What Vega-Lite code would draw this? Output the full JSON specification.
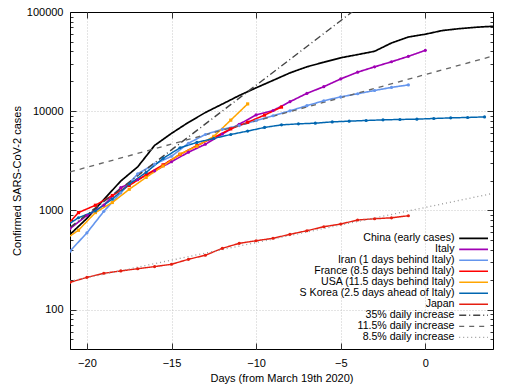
{
  "$schema": "https://vega.github.io/schema/vega-lite/v6.json",
  "width": 423,
  "height": 337,
  "autosize": {"type": "none"},
  "padding": {"left": 70, "top": 12, "right": 19, "bottom": 35},
  "background": "white",
  "config": {
    "font": "Liberation Sans",
    "view": {"stroke": "black", "strokeWidth": 1},
    "axis": {
      "labelFont": "Liberation Sans", "labelFontSize": 11, "labelColor": "black",
      "titleFont": "Liberation Sans", "titleFontSize": 11, "titleFontWeight": "normal", "titleColor": "black",
      "domain": false, "tickColor": "black", "tickWidth": 0.8,
      "gridColor": "#bbbbbb", "gridDash": [1, 2], "gridWidth": 0.8
    }
  },
  "data": {
    "values": [
      {"s": "China (early cases)", "d": -21, "v": 571}, {"s": "China (early cases)", "d": -20, "v": 830}, {"s": "China (early cases)", "d": -19, "v": 1287}, {"s": "China (early cases)", "d": -18, "v": 1975}, {"s": "China (early cases)", "d": -17, "v": 2744}, {"s": "China (early cases)", "d": -16, "v": 4515}, {"s": "China (early cases)", "d": -15, "v": 5974}, {"s": "China (early cases)", "d": -14, "v": 7711}, {"s": "China (early cases)", "d": -13, "v": 9692}, {"s": "China (early cases)", "d": -12, "v": 11791}, {"s": "China (early cases)", "d": -11, "v": 14380}, {"s": "China (early cases)", "d": -10, "v": 17205}, {"s": "China (early cases)", "d": -9, "v": 20440}, {"s": "China (early cases)", "d": -8, "v": 24324}, {"s": "China (early cases)", "d": -7, "v": 28018}, {"s": "China (early cases)", "d": -6, "v": 31161}, {"s": "China (early cases)", "d": -5, "v": 34546}, {"s": "China (early cases)", "d": -4, "v": 37198}, {"s": "China (early cases)", "d": -3, "v": 40171}, {"s": "China (early cases)", "d": -2, "v": 48700}, {"s": "China (early cases)", "d": -1, "v": 56000}, {"s": "China (early cases)", "d": 0, "v": 59700}, {"s": "China (early cases)", "d": 1, "v": 65000}, {"s": "China (early cases)", "d": 2, "v": 67900}, {"s": "China (early cases)", "d": 3, "v": 70200}, {"s": "China (early cases)", "d": 4, "v": 71800},
      {"s": "Italy", "d": -21, "v": 655}, {"s": "Italy", "d": -20, "v": 888}, {"s": "Italy", "d": -19, "v": 1128}, {"s": "Italy", "d": -18, "v": 1694}, {"s": "Italy", "d": -17, "v": 2036}, {"s": "Italy", "d": -16, "v": 2502}, {"s": "Italy", "d": -15, "v": 3089}, {"s": "Italy", "d": -14, "v": 3858}, {"s": "Italy", "d": -13, "v": 4636}, {"s": "Italy", "d": -12, "v": 5883}, {"s": "Italy", "d": -11, "v": 7375}, {"s": "Italy", "d": -10, "v": 9172}, {"s": "Italy", "d": -9, "v": 10149}, {"s": "Italy", "d": -8, "v": 12462}, {"s": "Italy", "d": -7, "v": 15113}, {"s": "Italy", "d": -6, "v": 17660}, {"s": "Italy", "d": -5, "v": 21157}, {"s": "Italy", "d": -4, "v": 24747}, {"s": "Italy", "d": -3, "v": 27980}, {"s": "Italy", "d": -2, "v": 31506}, {"s": "Italy", "d": -1, "v": 35713}, {"s": "Italy", "d": 0, "v": 41035},
      {"s": "Iran (1 days behind Italy)", "d": -21, "v": 388}, {"s": "Iran (1 days behind Italy)", "d": -20, "v": 593}, {"s": "Iran (1 days behind Italy)", "d": -19, "v": 978}, {"s": "Iran (1 days behind Italy)", "d": -18, "v": 1501}, {"s": "Iran (1 days behind Italy)", "d": -17, "v": 2336}, {"s": "Iran (1 days behind Italy)", "d": -16, "v": 2922}, {"s": "Iran (1 days behind Italy)", "d": -15, "v": 3513}, {"s": "Iran (1 days behind Italy)", "d": -14, "v": 4747}, {"s": "Iran (1 days behind Italy)", "d": -13, "v": 5823}, {"s": "Iran (1 days behind Italy)", "d": -12, "v": 6566}, {"s": "Iran (1 days behind Italy)", "d": -11, "v": 7161}, {"s": "Iran (1 days behind Italy)", "d": -10, "v": 8042}, {"s": "Iran (1 days behind Italy)", "d": -9, "v": 9000}, {"s": "Iran (1 days behind Italy)", "d": -8, "v": 10075}, {"s": "Iran (1 days behind Italy)", "d": -7, "v": 11364}, {"s": "Iran (1 days behind Italy)", "d": -6, "v": 12729}, {"s": "Iran (1 days behind Italy)", "d": -5, "v": 13938}, {"s": "Iran (1 days behind Italy)", "d": -4, "v": 14991}, {"s": "Iran (1 days behind Italy)", "d": -3, "v": 16169}, {"s": "Iran (1 days behind Italy)", "d": -2, "v": 17361}, {"s": "Iran (1 days behind Italy)", "d": -1, "v": 18407},
      {"s": "France (8.5 days behind Italy)", "d": -21.5, "v": 613}, {"s": "France (8.5 days behind Italy)", "d": -20.5, "v": 949}, {"s": "France (8.5 days behind Italy)", "d": -19.5, "v": 1126}, {"s": "France (8.5 days behind Italy)", "d": -18.5, "v": 1412}, {"s": "France (8.5 days behind Italy)", "d": -17.5, "v": 1784}, {"s": "France (8.5 days behind Italy)", "d": -16.5, "v": 2281}, {"s": "France (8.5 days behind Italy)", "d": -15.5, "v": 2876}, {"s": "France (8.5 days behind Italy)", "d": -14.5, "v": 3661}, {"s": "France (8.5 days behind Italy)", "d": -13.5, "v": 4499}, {"s": "France (8.5 days behind Italy)", "d": -12.5, "v": 5423}, {"s": "France (8.5 days behind Italy)", "d": -11.5, "v": 6633}, {"s": "France (8.5 days behind Italy)", "d": -10.5, "v": 7730}, {"s": "France (8.5 days behind Italy)", "d": -9.5, "v": 9134}, {"s": "France (8.5 days behind Italy)", "d": -8.5, "v": 10995},
      {"s": "USA (11.5 days behind Italy)", "d": -21.5, "v": 482}, {"s": "USA (11.5 days behind Italy)", "d": -20.5, "v": 630}, {"s": "USA (11.5 days behind Italy)", "d": -19.5, "v": 950}, {"s": "USA (11.5 days behind Italy)", "d": -18.5, "v": 1200}, {"s": "USA (11.5 days behind Italy)", "d": -17.5, "v": 1630}, {"s": "USA (11.5 days behind Italy)", "d": -16.5, "v": 2150}, {"s": "USA (11.5 days behind Italy)", "d": -15.5, "v": 2800}, {"s": "USA (11.5 days behind Italy)", "d": -14.5, "v": 3690}, {"s": "USA (11.5 days behind Italy)", "d": -13.5, "v": 4440}, {"s": "USA (11.5 days behind Italy)", "d": -12.5, "v": 5580}, {"s": "USA (11.5 days behind Italy)", "d": -11.5, "v": 8120}, {"s": "USA (11.5 days behind Italy)", "d": -10.5, "v": 11840},
      {"s": "S Korea (2.5 days ahead of Italy)", "d": -21.5, "v": 650}, {"s": "S Korea (2.5 days ahead of Italy)", "d": -20.5, "v": 843}, {"s": "S Korea (2.5 days ahead of Italy)", "d": -19.5, "v": 985}, {"s": "S Korea (2.5 days ahead of Italy)", "d": -18.5, "v": 1300}, {"s": "S Korea (2.5 days ahead of Italy)", "d": -17.5, "v": 1840}, {"s": "S Korea (2.5 days ahead of Italy)", "d": -16.5, "v": 2415}, {"s": "S Korea (2.5 days ahead of Italy)", "d": -15.5, "v": 3340}, {"s": "S Korea (2.5 days ahead of Italy)", "d": -14.5, "v": 4275}, {"s": "S Korea (2.5 days ahead of Italy)", "d": -13.5, "v": 4840}, {"s": "S Korea (2.5 days ahead of Italy)", "d": -12.5, "v": 5310}, {"s": "S Korea (2.5 days ahead of Italy)", "d": -11.5, "v": 5820}, {"s": "S Korea (2.5 days ahead of Italy)", "d": -10.5, "v": 6300}, {"s": "S Korea (2.5 days ahead of Italy)", "d": -9.5, "v": 6856}, {"s": "S Korea (2.5 days ahead of Italy)", "d": -8.5, "v": 7276}, {"s": "S Korea (2.5 days ahead of Italy)", "d": -7.5, "v": 7450}, {"s": "S Korea (2.5 days ahead of Italy)", "d": -6.5, "v": 7570}, {"s": "S Korea (2.5 days ahead of Italy)", "d": -5.5, "v": 7800}, {"s": "S Korea (2.5 days ahead of Italy)", "d": -4.5, "v": 7930}, {"s": "S Korea (2.5 days ahead of Italy)", "d": -3.5, "v": 8060}, {"s": "S Korea (2.5 days ahead of Italy)", "d": -2.5, "v": 8175}, {"s": "S Korea (2.5 days ahead of Italy)", "d": -1.5, "v": 8250}, {"s": "S Korea (2.5 days ahead of Italy)", "d": -0.5, "v": 8310}, {"s": "S Korea (2.5 days ahead of Italy)", "d": 0.5, "v": 8440}, {"s": "S Korea (2.5 days ahead of Italy)", "d": 1.5, "v": 8560}, {"s": "S Korea (2.5 days ahead of Italy)", "d": 2.5, "v": 8640}, {"s": "S Korea (2.5 days ahead of Italy)", "d": 3.5, "v": 8760},
      {"s": "Japan", "d": -21, "v": 188}, {"s": "Japan", "d": -20, "v": 211}, {"s": "Japan", "d": -19, "v": 232}, {"s": "Japan", "d": -18, "v": 245}, {"s": "Japan", "d": -17, "v": 258}, {"s": "Japan", "d": -16, "v": 271}, {"s": "Japan", "d": -15, "v": 286}, {"s": "Japan", "d": -14, "v": 321}, {"s": "Japan", "d": -13, "v": 353}, {"s": "Japan", "d": -12, "v": 414}, {"s": "Japan", "d": -11, "v": 465}, {"s": "Japan", "d": -10, "v": 494}, {"s": "Japan", "d": -9, "v": 523}, {"s": "Japan", "d": -8, "v": 573}, {"s": "Japan", "d": -7, "v": 623}, {"s": "Japan", "d": -6, "v": 684}, {"s": "Japan", "d": -5, "v": 728}, {"s": "Japan", "d": -4, "v": 799}, {"s": "Japan", "d": -3, "v": 823}, {"s": "Japan", "d": -2, "v": 841}, {"s": "Japan", "d": -1, "v": 883},
      {"s": "35% daily increase", "d": -21, "v": 673}, {"s": "35% daily increase", "d": -3, "v": 149300},
      {"s": "11.5% daily increase", "d": -21, "v": 2440}, {"s": "11.5% daily increase", "d": 4, "v": 36000},
      {"s": "8.5% daily increase", "d": -21, "v": 193}, {"s": "8.5% daily increase", "d": 4, "v": 1483}
    ]
  },
  "resolve": {"axis": {"x": "independent", "y": "independent"}},
  "layer": [
    {
      "mark": {"type": "line", "clip": true},
      "encoding": {
        "x": {
          "field": "d", "type": "quantitative",
          "scale": {"domain": [-21, 4], "nice": false, "zero": false},
          "axis": {"values": [-20, -15, -10, -5, 0], "tickSize": -6, "labelPadding": 14, "grid": true, "title": "Days (from March 19th 2020)", "titlePadding": 4}
        },
        "y": {
          "field": "v", "type": "quantitative",
          "scale": {"type": "log", "domain": [40, 100000], "nice": false},
          "axis": {
            "values": [40, 50, 60, 70, 80, 90, 100, 200, 300, 400, 500, 600, 700, 800, 900, 1000, 2000, 3000, 4000, 5000, 6000, 7000, 8000, 9000, 10000, 20000, 30000, 40000, 50000, 60000, 70000, 80000, 90000, 100000],
            "labelExpr": "indexof([100, 1000, 10000, 100000], datum.value) >= 0 ? format(datum.value, 'd') : ''",
            "tickSize": {"condition": {"test": "indexof([100, 1000, 10000, 100000], datum.value) >= 0", "value": -6}, "value": -3},
            "gridOpacity": {"condition": {"test": "indexof([100, 1000, 10000], datum.value) >= 0", "value": 1}, "value": 0},
            "grid": true, "labelPadding": 13, "title": "Confirmed SARS-CoV-2 cases", "titlePadding": 4
          }
        },
        "color": {
          "field": "s", "type": "nominal",
          "scale": {
            "domain": ["China (early cases)", "Italy", "Iran (1 days behind Italy)", "France (8.5 days behind Italy)", "USA (11.5 days behind Italy)", "S Korea (2.5 days ahead of Italy)", "Japan", "35% daily increase", "11.5% daily increase", "8.5% daily increase"],
            "range": ["#000000", "#a000b4", "#6495ed", "#ff0000", "#ffa500", "#0066b0", "#e51e10", "#444444", "#666666", "#999999"]
          },
          "legend": {"title": null, "orient": "none", "legendX": 398.3, "legendY": 221, "symbolType": "M-3.6,0H3.6", "symbolSize": 64, "symbolStrokeWidth": 1.5, "labelAlign": "right", "labelOffset": -24.4, "labelFontSize": 10.6, "labelFont": "Liberation Sans", "labelColor": "black", "labelLimit": 400, "rowPadding": 0, "padding": 0}
        },
        "strokeDash": {
          "field": "s", "type": "nominal",
          "scale": {
            "domain": ["China (early cases)", "Italy", "Iran (1 days behind Italy)", "France (8.5 days behind Italy)", "USA (11.5 days behind Italy)", "S Korea (2.5 days ahead of Italy)", "Japan", "35% daily increase", "11.5% daily increase", "8.5% daily increase"],
            "range": [[1, 0], [1, 0], [1, 0], [1, 0], [1, 0], [1, 0], [1, 0], [7, 3, 1, 3], [5, 5], [1, 3]]
          },
          "legend": {"title": null, "orient": "none", "legendX": 398.3, "legendY": 221, "symbolType": "M-3.6,0H3.6", "symbolSize": 64, "symbolStrokeWidth": 1.5, "labelAlign": "right", "labelOffset": -24.4, "labelFontSize": 10.6, "labelFont": "Liberation Sans", "labelColor": "black", "labelLimit": 400, "rowPadding": 0, "padding": 0}
        },
        "strokeWidth": {
          "field": "s", "type": "nominal", "legend": null,
          "scale": {
            "domain": ["China (early cases)", "Italy", "Iran (1 days behind Italy)", "France (8.5 days behind Italy)", "USA (11.5 days behind Italy)", "S Korea (2.5 days ahead of Italy)", "Japan", "35% daily increase", "11.5% daily increase", "8.5% daily increase"],
            "range": [1.7, 1.3, 1.3, 1.4, 1.3, 1.4, 1.3, 1, 1, 1]
          }
        }
      }
    },
    {
      "transform": [{"filter": {"field": "s", "oneOf": ["Italy", "Iran (1 days behind Italy)", "France (8.5 days behind Italy)", "USA (11.5 days behind Italy)", "S Korea (2.5 days ahead of Italy)", "Japan"]}}],
      "mark": {"type": "point", "filled": true, "clip": true, "size": 10, "opacity": 1},
      "encoding": {
        "x": {"field": "d", "type": "quantitative", "axis": {"orient": "top", "values": [-20, -15, -10, -5, 0], "tickSize": -6, "labels": false, "grid": false, "title": null}},
        "y": {"field": "v", "type": "quantitative", "axis": {
          "orient": "right",
          "values": [40, 50, 60, 70, 80, 90, 100, 200, 300, 400, 500, 600, 700, 800, 900, 1000, 2000, 3000, 4000, 5000, 6000, 7000, 8000, 9000, 10000, 20000, 30000, 40000, 50000, 60000, 70000, 80000, 90000, 100000],
          "tickSize": {"condition": {"test": "indexof([100, 1000, 10000, 100000], datum.value) >= 0", "value": -6}, "value": -3},
          "labels": false, "grid": false, "title": null}},
        "color": {"field": "s", "type": "nominal", "legend": null},
        "shape": {"field": "s", "type": "nominal", "legend": null,
          "scale": {"domain": ["Italy", "Iran (1 days behind Italy)", "France (8.5 days behind Italy)", "USA (11.5 days behind Italy)", "S Korea (2.5 days ahead of Italy)", "Japan"], "range": ["circle", "circle", "square", "square", "circle", "circle"]}}
      }
    }
  ]
}
